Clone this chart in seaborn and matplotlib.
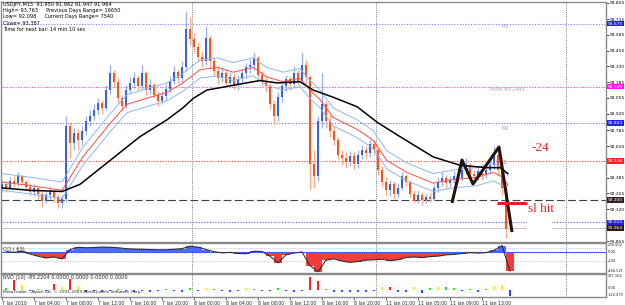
import numpy as np
import pandas as pd
import matplotlib
matplotlib.use("Agg")
import matplotlib.pyplot as plt
import seaborn as sns
from matplotlib.patches import Rectangle
from matplotlib.transforms import blended_transform_factory

# ---------------- data ----------------
# 30-minute candles on a trading-time axis (hours from 7 Jan 00:00)
first_open = 92.30
close = [92.33, 92.30, 92.36, 92.34, 92.40, 92.35, 92.31, 92.27, 92.30, 92.25,
         92.19, 92.24, 92.27, 92.22, 92.17, 92.21, 92.82, 92.68, 92.76, 92.70,
         92.78, 92.86, 92.90, 92.95, 93.01, 92.97, 93.12, 93.26, 93.19, 93.05,
         92.99, 93.12, 93.18, 93.22, 93.15, 93.26, 93.12, 93.16, 93.08, 93.03,
         93.07, 93.13, 93.20, 93.27, 93.22, 93.31, 93.63, 93.55, 93.48, 93.40,
         93.36, 93.56, 93.36, 93.28, 93.22, 93.26, 93.18, 93.23, 93.16, 93.21,
         93.26, 93.31, 93.33, 93.39, 93.25, 93.20, 93.15, 93.00, 92.90, 93.06,
         93.15, 93.21, 93.17, 93.26, 93.20, 93.33, 93.23, 92.50, 92.40, 92.86,
         93.00, 92.86, 92.78, 92.70, 92.58, 92.55, 92.52, 92.57, 92.50, 92.58,
         92.62, 92.59, 92.67, 92.62, 92.45, 92.35, 92.28, 92.33, 92.25, 92.30,
         92.40, 92.35, 92.25, 92.20, 92.24, 92.20, 92.22, 92.21, 92.30, 92.35,
         92.38, 92.34, 92.37, 92.40, 92.38, 92.45, 92.49, 92.42, 92.40, 92.44,
         92.41, 92.45, 92.49, 92.58, 92.45, 92.30, 91.96]
high = [92.37, 92.36, 92.39, 92.40, 92.43, 92.41, 92.37, 92.33, 92.33, 92.31,
        92.27, 92.27, 92.31, 92.29, 92.25, 92.24, 92.90, 92.85, 92.80, 92.79,
        92.82, 92.90, 92.95, 93.00, 93.05, 93.04, 93.16, 93.33, 93.29, 93.22,
        93.08, 93.16, 93.23, 93.27, 93.25, 93.33, 93.28, 93.21, 93.18, 93.11,
        93.11, 93.17, 93.24, 93.32, 93.30, 93.36, 93.78, 93.73, 93.60, 93.52,
        93.45, 93.66, 93.58, 93.40, 93.32, 93.31, 93.29, 93.27, 93.26, 93.25,
        93.30, 93.35, 93.38, 93.44, 93.41, 93.28, 93.24, 93.18, 93.04, 93.10,
        93.19, 93.25, 93.24, 93.32, 93.29, 93.44, 93.37, 93.25, 92.62, 92.90,
        93.26, 93.03, 92.92, 92.82, 92.73, 92.62, 92.60, 92.61, 92.60, 92.62,
        92.66, 92.65, 92.71, 92.70, 92.64, 92.48, 92.39, 92.37, 92.36, 92.34,
        92.43, 92.42, 92.37, 92.28, 92.28, 92.27, 92.25, 92.26, 92.33, 92.39,
        92.43, 92.41, 92.40, 92.44, 92.43, 92.50, 92.55, 92.51, 92.45, 92.47,
        92.46, 92.49, 92.53, 92.65, 92.60, 92.47, 92.32]
low = [92.27, 92.27, 92.29, 92.31, 92.32, 92.33, 92.28, 92.24, 92.23, 92.21,
       92.14, 92.17, 92.21, 92.18, 92.13, 92.13, 92.18, 92.55, 92.62, 92.62,
       92.66, 92.74, 92.82, 92.87, 92.91, 92.92, 92.95, 93.09, 93.14, 93.01,
       92.95, 92.97, 93.09, 93.14, 93.12, 93.13, 93.08, 93.09, 93.05, 92.99,
       93.00, 93.04, 93.10, 93.17, 93.18, 93.19, 93.28, 93.50, 93.43, 93.36,
       93.31, 93.33, 93.30, 93.24, 93.17, 93.19, 93.14, 93.15, 93.13, 93.12,
       93.18, 93.22, 93.26, 93.29, 93.21, 93.15, 93.10, 92.96, 92.83, 92.86,
       93.02, 93.11, 93.12, 93.14, 93.16, 93.18, 93.18, 92.28, 92.30, 92.36,
       92.80, 92.80, 92.73, 92.66, 92.54, 92.49, 92.47, 92.48, 92.46, 92.47,
       92.54, 92.55, 92.56, 92.58, 92.41, 92.31, 92.24, 92.23, 92.21, 92.22,
       92.28, 92.32, 92.22, 92.17, 92.17, 92.16, 92.17, 92.18, 92.19, 92.27,
       92.32, 92.30, 92.31, 92.34, 92.34, 92.36, 92.42, 92.38, 92.36, 92.37,
       92.37, 92.38, 92.42, 92.46, 92.41, 92.24, 91.88]

# moving averages (hours, price)
ma_black_x = [0, 3.5, 7.5, 9.75, 13.5, 17.25, 20.6, 22.6, 23.9, 25.6, 28.9, 32.25,
              34.4, 37.25, 38.9, 41.4, 44.4, 46.9, 49.75, 53.9, 57.25, 60.6, 62.25, 63.25]
ma_black = [92.30, 92.28, 92.27, 92.33, 92.53, 92.73, 92.87, 92.97, 93.05, 93.12,
            93.16, 93.20, 93.18, 93.19, 93.12, 93.06, 92.98, 92.85, 92.73, 92.56,
            92.49, 92.47, 92.47, 92.42]
ma_red_x = [0, 3.5, 7.5, 10.1, 13.5, 15.6, 18.5, 20.6, 22.6, 24.75, 26.9, 28.9, 31.4,
            33.1, 35.1, 37.25, 38.5, 39.75, 41.4, 44.4, 46.4, 48.1, 50.6, 53.9, 56.4,
            59.4, 61.4, 62.6, 63.25]
ma_red = [92.35, 92.32, 92.28, 92.56, 92.84, 93.00, 93.06, 93.10, 93.18, 93.29,
          93.31, 93.27, 93.31, 93.23, 93.19, 93.22, 93.12, 93.04, 92.89, 92.79,
          92.70, 92.53, 92.43, 92.34, 92.37, 92.39, 92.43, 92.39, 92.32]
env_upper = [92.42, 92.39, 92.35, 92.64, 92.92, 93.08, 93.14, 93.18, 93.26, 93.37,
             93.39, 93.35, 93.39, 93.31, 93.27, 93.30, 93.20, 93.12, 92.97, 92.87,
             92.78, 92.61, 92.51, 92.42, 92.45, 92.47, 92.51, 92.47, 92.40]
env_lower = [92.28, 92.25, 92.21, 92.49, 92.77, 92.93, 92.99, 93.03, 93.11, 93.22,
             93.24, 93.20, 93.24, 93.16, 93.12, 93.15, 93.05, 92.97, 92.82, 92.72,
             92.63, 92.46, 92.36, 92.27, 92.30, 92.32, 92.36, 92.32, 92.25]

# horizontal levels
level_values = [93.675, 93.149, 92.843, 92.526, 92.200, 92.013, 91.964]
level_labels = ["93.675", "93.149", "92.843", "92.526", "92.200", "92.013", "91.964"]
level_names = ["M3", "Pivot 93.1493", "M2", "S1"]
level_name_prices = [93.649, 93.121, 92.802, 92.509]

price_ticks = [93.850, 93.715, 93.585, 93.450, 93.320, 93.185, 93.055, 92.920,
               92.785, 92.650, 92.385, 92.255, 92.120, 91.855]
price_tick_labels = ["93.850", "93.715", "93.585", "93.450", "93.320", "93.185",
                     "93.055", "92.920", "92.785", "92.650", "92.385", "92.255",
                     "92.120", "91.855"]

time_ticks = [0, 4, 8, 12, 16, 20, 24, 28, 32, 36, 40, 44, 48, 52, 56, 60]
time_labels = ["7 Jan 2010", "7 Jan 04:00", "7 Jan 08:00", "7 Jan 12:00",
               "7 Jan 16:00", "7 Jan 20:00", "8 Jan 00:00", "8 Jan 04:00",
               "8 Jan 08:00", "8 Jan 12:00", "8 Jan 16:00", "8 Jan 20:00",
               "11 Jan 01:00", "11 Jan 05:00", "11 Jan 09:00", "11 Jan 13:00"]
separators = [23.75, 46.75, 70.5]

# CCI(63), hourly
cci = [10, -5, 20, -40, -90, -130, -110, -150, 60, 110, 100, 105, 115, 110, 100, 80,
       70, 65, 60, 55, 55, 65, 80, 135, 115, 60, 10, -15, -5, -30, -35, 20,
       15, -90, -240, -60, -20, 5, -300, -440, -180, -150, -200, -230, -210, -180,
       -170, -160, -190, -170, -120, -110, -120, -100, -90, -60, -50, -30, -10, -20,
       -10, 40, 150, -430]
cci_labels = ["206.552", "0.00", "-200", "-468.521"]

# NVO(10), hourly
nvo = [30, 180, 90, -20, 15, -15, 110, 60, 190, 70, -30, -25, -30, -20, 20, -25,
       -30, -20, -35, -25, 25, -20, -30, 30, -20, 40, 25, -25, -30, -20, 35, 20,
       -25, -20, 30, -15, -30, -20, 230, 160, 20, -30, -40, -35, -40, -30, -25, 60,
       50, -40, -35, 50, -45, 40, 55, 45, 30, -25, 20, -30, 25, 70, 80, -110]
nvo_kind = ["g", "r", "y", "b", "g", "b", "r", "y", "r", "y", "b", "b", "b", "b", "g", "b",
            "b", "b", "b", "b", "g", "b", "b", "g", "b", "y", "g", "b", "b", "b", "y", "g",
            "b", "b", "g", "b", "b", "b", "r", "r", "g", "b", "b", "b", "b", "b", "b", "y",
            "r", "b", "b", "y", "b", "g", "y", "g", "g", "b", "g", "b", "g", "y", "y", "b"]
nvo_labels = ["277.164", "0.00", "-322.470"]

# hand-drawn annotations
zigzag_x = [56.25, 57.5, 58.875, 62.125, 63.75]
zigzag_y = [92.174, 92.534, 92.333, 92.643, 91.930]
sl_x = [61.9, 65.6]
sl_y = [92.174, 92.174]
note_texts = ["-24", "sl hit"]
note_x = [67.3, 67.4]
note_y = [92.635, 92.123]

header_lines = ["USDJPY,M15  91.950 91.982 91.947 91.964",
                "High= 93.763     Previous Days Range= 16650",
                "Low= 92.098     Current Days Range= 7540",
                "Close= 93.387",
                "Time for next bar: 14 min 10 sec"]

# ---------------- figure ----------------
sns.set_theme(style="white")
plt.rcParams["font.family"] = ["DejaVu Sans"]
TS = 3.6     # small chart text
RS = 3.15    # right-scale labels
SS = 2.6     # long indicator-scale labels
W, H = 625, 305
fig = plt.figure(figsize=(6.25, 3.05), dpi=100)
fig.patch.set_facecolor("white")


def rect(top, bottom, left=1, right=606):
    return [left / W, 1 - bottom / H, (right - left) / W, (bottom - top) / H]


ax = fig.add_axes(rect(2, 242))
ax_cci = fig.add_axes(rect(243, 273), sharex=ax)
ax_nvo = fig.add_axes(rect(274, 297), sharex=ax)

for a in (ax, ax_cci, ax_nvo):
    a.set_facecolor("white")
    for s in a.spines.values():
        s.set_color("#8a8a8a")
        s.set_linewidth(1.0)
    a.tick_params(left=False, labelleft=False, bottom=False, labelbottom=False,
                  right=False, labelright=False)
    for sx in separators:
        a.axvline(sx, color="#505050", lw=0.6, ls=(0, (1, 1.6)), zorder=1)

ax.set_xlim(-0.125, 75.5)
ax.set_ylim(91.847, 93.858)

# levels
lvl_colors = ["#7f7fff", "#ff40ff", "#7070f0", "#ff4040", "#404040", "#5a5aff", "#c8c8c8"]
lvl_styles = [(0, (1, 1.5)), (0, (1, 1.5)), (0, (1, 1.5)), (0, (1, 1.5)), (0, (7, 3)),
              (0, (1, 1.5)), "-"]
box_colors = ["#2020e8", "#ff10ff", "#2020e8", "#ff2020", "#302020", "#2020e8", "#301818"]
btr = blended_transform_factory(ax.transAxes, ax.transData)
for v, lab, c, ls, bc in zip(level_values, level_labels, lvl_colors, lvl_styles, box_colors):
    ax.axhline(v, color=c, ls=ls, lw=0.8, zorder=2)
    ax.text(1.003, v, lab, transform=btr, fontsize=RS, color="white", ha="left",
            va="center", clip_on=False, zorder=10,
            bbox=dict(boxstyle="square,pad=0.15", fc=bc, ec="none"))
for name, p in zip(level_names, level_name_prices):
    ax.text(62.5 if name != "Pivot 93.1493" else 61.0, p, name, fontsize=TS,
            color="#a8a8a8", ha="left", va="center", zorder=3)

# price axis labels on the right
ax.yaxis.tick_right()
ax.set_yticks(price_ticks)
ax.set_yticklabels(price_tick_labels, fontsize=RS)
ax.tick_params(right=True, labelright=True, length=2, width=0.5, pad=0.8,
               colors="black")

# candles
cx = np.arange(len(close)) * 0.5
c_arr = np.array(close)
o_arr = np.array([first_open] + close[:-1])
h_arr = np.array(high)
l_arr = np.array(low)
up = c_arr >= o_arr
wick_col = np.where(up, "#98b0f0", "#ffa888")
body_col = np.where(up, "#3a62e0", "#ff5218")
ax.vlines(cx, l_arr, h_arr, colors=wick_col, lw=0.9, zorder=3)
body_h = np.maximum(np.abs(c_arr - o_arr), 0.004)
ax.bar(cx, body_h, bottom=np.minimum(c_arr, o_arr), width=0.36, color=body_col,
       linewidth=0, zorder=3.5)

# moving averages
sns.lineplot(x=ma_red_x, y=env_upper, ax=ax, color="#8cb8f2", lw=0.7, estimator=None,
             sort=False, zorder=4)
sns.lineplot(x=ma_red_x, y=env_lower, ax=ax, color="#8cb8f2", lw=0.7, estimator=None,
             sort=False, zorder=4)
sns.lineplot(x=ma_red_x, y=ma_red, ax=ax, color="#ff4a4a", lw=0.7, estimator=None,
             sort=False, zorder=4)
sns.lineplot(x=ma_black_x, y=ma_black, ax=ax, color="black", lw=1.1, estimator=None,
             sort=False, zorder=4.5)

# annotations
ax.add_patch(Rectangle((65.6, 91.93), 3.15, 0.145, fc="white", ec="none", zorder=5))
ax.plot(zigzag_x, zigzag_y, color="#241410", lw=2.2, solid_capstyle="butt", zorder=6)
ax.plot(sl_x, sl_y, color="#e0202c", lw=2.2, solid_capstyle="butt", zorder=6)
for t, x_, y_ in zip(note_texts, note_x, note_y):
    ax.text(x_, y_, t, fontsize=9.5, family=["Liberation Serif", "DejaVu Serif"],
            color="#e8242c", ha="center", va="center", zorder=7)

# header text
for i, line in enumerate(header_lines):
    fig.text(3 / W, 1 - (4.5 + 6.2 * i) / H, line, fontsize=TS, color="black",
             ha="left", va="center")

# CCI panel
ax_cci.set_ylim(-468.521, 206.552)
hx = np.arange(len(cci)) + 0.5
cci_arr = np.array(cci)
ax_cci.axhline(100, color="#b0b0b0", lw=0.6, ls=(0, (1, 1.5)), zorder=1)
ax_cci.axhline(-200, color="#b0b0b0", lw=0.6, ls=(0, (1, 1.5)), zorder=1)
ax_cci.bar(hx, cci_arr, width=0.92,
           color=np.where(cci_arr >= 0, "#3a5ef0", "#f02828"), linewidth=0,
           alpha=0.9, zorder=2)
ax_cci.axhline(0, color="#4060e8", lw=0.8, zorder=2.5)
sns.lineplot(x=hx, y=cci, ax=ax_cci, color="#303030", lw=0.8, estimator=None,
             sort=False, zorder=3)
ax_cci.text(0.004, 0.78, "CCI ( 63)", transform=ax_cci.transAxes, fontsize=TS,
            ha="left", va="center")
ctr = blended_transform_factory(ax_cci.transAxes, ax_cci.transData)
for val, lab, va in zip([206.552, 0.0, -200, -468.521], cci_labels,
                        ["top", "center", "center", "bottom"]):
    ax_cci.text(1.003, val, lab, transform=ctr, fontsize=SS, ha="left", va=va,
                clip_on=False)

# NVO panel
ax_nvo.set_ylim(-121, 277.164)
nvo_pal = {"r": "#ff2020", "y": "#f2f020", "g": "#30e030", "b": "#2846ff"}
ax_nvo.bar(hx, nvo, width=0.35, color=[nvo_pal[k] for k in nvo_kind], linewidth=0,
           zorder=2)
ax_nvo.text(0.004, 0.83, "NVO (10) -85.2204 0.0000 0.0000 0.0000 0.0000",
            transform=ax_nvo.transAxes, fontsize=TS, ha="left", va="center")
ax_nvo.text(0.004, 0.22, "MetaTrader - Alpari UK, \u00a9 2001-2009 MetaQuotes Software Corp.",
            transform=ax_nvo.transAxes, fontsize=TS - 0.5, ha="left", va="center",
            zorder=3)
ntr = blended_transform_factory(ax_nvo.transAxes, ax_nvo.transData)
for val, lab, va in zip([277.164, 0.0, -121], nvo_labels, ["top", "bottom", "bottom"]):
    ax_nvo.text(1.003, val, lab, transform=ntr, fontsize=SS, ha="left", va=va,
                clip_on=False)

ax_nvo.set_xticks(time_ticks)
ax_nvo.set_xticklabels(time_labels, fontsize=3.35, ha="left")
ax_nvo.tick_params(bottom=True, labelbottom=True, length=2, width=0.5, pad=1)
for a in (ax, ax_cci, ax_nvo):
    a.set_xlabel("")
    a.set_ylabel("")

fig.savefig("out.png", dpi=100, facecolor="white")
